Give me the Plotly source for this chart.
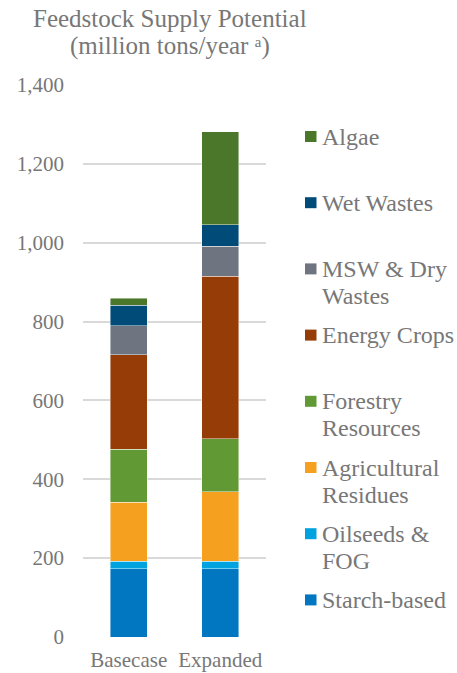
import plotly.graph_objects as go

# Feedstock supply potential, million tons/year
scenarios = ["Basecase", "Expanded"]
feedstocks = ["Starch-based", "Oilseeds & FOG", "Agricultural Residues",
              "Forestry Resources", "Energy Crops", "MSW & Dry Wastes",
              "Wet Wastes", "Algae"]
basecase = [173, 19, 150, 134, 240, 74, 52, 17]
expanded = [173, 19, 177, 134, 412, 76, 54, 236]
colors = ["#0077c0", "#00a2e0", "#f5a11f", "#619a35",
          "#953c07", "#6e7580", "#004b78", "#4a7729"]
legend_lines = [["Starch-based"], ["Oilseeds &", "FOG"], ["Agricultural", "Residues"],
                ["Forestry", "Resources"], ["Energy Crops"], ["MSW & Dry", "Wastes"],
                ["Wet Wastes"], ["Algae"]]
title_lines = ["Feedstock Supply Potential", "(million tons/year \u1d43)"]

W, H = 457, 673
ML, MR, MT, MB = 83, 191, 85, 36
PW, PH = W - ML - MR, H - MT - MB
FONT = "Liberation Serif"
TXT = "#777777"


def px_x(x):
    return (x - ML) / PW


def px_y(y):
    return (H - MB - y) / PH


fig = go.Figure()
for name, b, e, c in zip(feedstocks, basecase, expanded, colors):
    fig.add_trace(go.Bar(
        x=scenarios, y=[b, e], name=name, marker_color=c,
        marker_line=dict(color="rgba(255,255,255,0.55)", width=0.8),
        width=0.4, showlegend=False,
    ))

annotations = []
shapes = []

# title (two lines)
for i, line in enumerate(title_lines):
    annotations.append(dict(
        text=line, xref="paper", yref="paper", x=px_x(170), y=px_y(18 + 28 * i),
        xanchor="center", yanchor="middle", showarrow=False,
        font=dict(family=FONT, size=25, color=TXT)))

# legend, top entry is the last stacked series
order = list(range(len(feedstocks)))[::-1]
for slot, idx in enumerate(order):
    cy = 136.5 + 66.2 * slot
    shapes.append(dict(
        type="rect", xref="paper", yref="paper",
        x0=px_x(305), x1=px_x(316.5), y0=px_y(cy - 5.5), y1=px_y(cy + 5.5),
        fillcolor=colors[idx], line=dict(width=0)))
    for j, line in enumerate(legend_lines[idx]):
        annotations.append(dict(
            text=line, xref="paper", yref="paper", x=px_x(320), y=px_y(cy + 27 * j),
            xanchor="left", yanchor="middle", showarrow=False,
            font=dict(family=FONT, size=24, color=TXT)))

fig.update_layout(
    width=W, height=H,
    margin=dict(l=ML, r=MR, t=MT, b=MB, pad=0, autoexpand=False),
    barmode="stack", bargap=0.6,
    plot_bgcolor="white", paper_bgcolor="white",
    font=dict(family=FONT, size=21, color=TXT),
    annotations=annotations, shapes=shapes,
    xaxis=dict(showgrid=False, showline=False, ticks="", ticklabelstandoff=8,
               automargin=False, tickfont=dict(family=FONT, size=21, color=TXT)),
    yaxis=dict(range=[0, 1400], dtick=200, tickformat=",", showline=False,
               gridcolor="#d9d9d9", gridwidth=1.6, zeroline=False, ticks="",
               automargin=False, ticklabelstandoff=18,
               tickfont=dict(family=FONT, size=21, color=TXT)),
)

fig.write_html("out.html")
